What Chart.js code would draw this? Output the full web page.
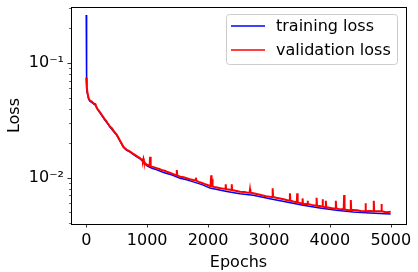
<!DOCTYPE html>
<html>
<head>
<meta charset="utf-8">
<script src="https://cdn.jsdelivr.net/npm/chart.js@4/dist/chart.umd.min.js"></script>
<style>
html,body{margin:0;padding:0;background:#fff;}
canvas{display:block;}
</style>
</head>
<body>
<canvas id="c" width="418" height="272"></canvas>
<script>
// ---- data ----
const trainEpochs = [0, 3, 10, 20, 40, 60, 100, 150, 200, 257, 300, 350, 393, 450, 503, 560, 611, 660, 721, 800, 885, 967, 1005, 1080, 1159, 1250, 1323, 1400, 1541, 1650, 1759, 1900, 2033, 2150, 2307, 2525, 2743, 3016, 3290, 3562, 3836, 4110, 4382, 4656, 4999];
const trainLoss = [0.262, 0.072, 0.060, 0.054, 0.0485, 0.0465, 0.045, 0.043, 0.0385, 0.0348, 0.0322, 0.0297, 0.0275, 0.0253, 0.0234, 0.0206, 0.0184, 0.0174, 0.0167, 0.0156, 0.0146, 0.0131, 0.0126, 0.0121, 0.0117, 0.0112, 0.0109, 0.0106, 0.0099, 0.0096, 0.0092, 0.0087, 0.00812, 0.0079, 0.0076, 0.00725, 0.00702, 0.00656, 0.00614, 0.00575, 0.00545, 0.0052, 0.00502, 0.00492, 0.00482];

const valEpochs = [0, 10, 20, 40, 60, 93, 120, 150, 175, 200, 230, 257, 300, 330, 350, 393, 421, 450, 503, 540, 560, 611, 640, 660, 700, 721, 760, 800, 850, 885, 920, 932, 939, 946, 967, 1005, 1040, 1049, 1058, 1080, 1120, 1159, 1200, 1250, 1290, 1323, 1360, 1400, 1440, 1480, 1487, 1494, 1541, 1600, 1650, 1700, 1759, 1790, 1800, 1810, 1850, 1900, 1950, 2000, 2033, 2045, 2052, 2058, 2066, 2074, 2100, 2150, 2200, 2250, 2283, 2290, 2297, 2350, 2382, 2389, 2396, 2450, 2525, 2600, 2650, 2682, 2689, 2696, 2743, 2800, 2850, 2900, 2950, 3016, 3054, 3061, 3068, 3120, 3180, 3240, 3290, 3337, 3344, 3351, 3400, 3457, 3464, 3471, 3520, 3545, 3552, 3559, 3600, 3627, 3634, 3641, 3700, 3775, 3782, 3789, 3836, 3873, 3880, 3887, 3927, 3934, 3941, 3980, 4050, 4091, 4098, 4105, 4160, 4227, 4234, 4241, 4300, 4337, 4344, 4351, 4382, 4450, 4520, 4578, 4585, 4592, 4656, 4714, 4721, 4728, 4760, 4800, 4840, 4847, 4854, 4920, 4999];
const valLoss = [0.0744, 0.062, 0.055, 0.0492, 0.047, 0.046, 0.0445, 0.0438, 0.0403, 0.0388, 0.037, 0.0352, 0.0326, 0.0312, 0.03, 0.0278, 0.027, 0.0256, 0.0236, 0.0218, 0.0208, 0.0186, 0.018, 0.0176, 0.0171, 0.01685, 0.0163, 0.0158, 0.0152, 0.01476, 0.0142, 0.0141, 0.0146, 0.014, 0.01335, 0.0129, 0.0127, 0.01524, 0.0127, 0.0125, 0.0123, 0.01208, 0.0119, 0.0116, 0.0115, 0.01128, 0.0111, 0.0109, 0.0107, 0.0105, 0.01167, 0.0105, 0.0102, 0.0101, 0.0099, 0.0097, 0.00955, 0.0095, 0.01, 0.0094, 0.0092, 0.009, 0.0088, 0.0086, 0.00846, 0.0092, 0.0105, 0.0086, 0.0098, 0.0084, 0.0083, 0.0082, 0.0081, 0.008, 0.008, 0.00877, 0.0079, 0.0079, 0.0078, 0.00877, 0.0078, 0.0077, 0.00755, 0.0075, 0.0074, 0.0074, 0.0079, 0.0074, 0.00731, 0.0072, 0.0071, 0.007, 0.0069, 0.00683, 0.0068, 0.00808, 0.0068, 0.0067, 0.0066, 0.0065, 0.00639, 0.0063, 0.00731, 0.0063, 0.0062, 0.0061, 0.00731, 0.0061, 0.006, 0.006, 0.0066, 0.0059, 0.0059, 0.0059, 0.0063, 0.0059, 0.0058, 0.0057, 0.00669, 0.0057, 0.00567, 0.0056, 0.00648, 0.0056, 0.0055, 0.0063, 0.0055, 0.0055, 0.0054, 0.0054, 0.0063, 0.0054, 0.0053, 0.0053, 0.00707, 0.0053, 0.0052, 0.0052, 0.0064, 0.0052, 0.00523, 0.0052, 0.0051, 0.0051, 0.00598, 0.0051, 0.00513, 0.0051, 0.0063, 0.0051, 0.0051, 0.0051, 0.0051, 0.0059, 0.0051, 0.005, 0.00505];

const xTicks = [0, 1000, 2000, 3000, 4000, 5000];
const yTicks = [0.004, 0.005, 0.006, 0.007, 0.008, 0.009, 0.01, 0.02, 0.03, 0.04, 0.05, 0.06, 0.07, 0.08, 0.09, 0.1, 0.2, 0.3];
const yMajorLabels = {"0.01": "10\u207B\u00B2", "0.1": "10\u207B\u00B9"};
const seriesNames = ["training loss", "validation loss"];

const FONT = "'DejaVu Sans', sans-serif";

const framePlugin = {
  id: 'frame',
  afterDraw(chart) {
    const ctx = chart.ctx;
    const a = chart.chartArea;
    const xs = chart.scales.x, ys = chart.scales.y;
    ctx.save();
    ctx.strokeStyle = '#000';
    ctx.lineWidth = 0.8;
    xs.ticks.forEach(t => {
      const px = Math.round(xs.getPixelForValue(t.value)) + 0.5;
      ctx.beginPath(); ctx.moveTo(px, a.bottom); ctx.lineTo(px, a.bottom + 3.5); ctx.stroke();
    });
    ys.ticks.forEach(t => {
      const major = yMajorLabels[String(t.value)] !== undefined;
      const py = Math.round(ys.getPixelForValue(t.value)) + 0.5;
      const len = major ? 3.5 : 2;
      ctx.lineWidth = major ? 0.8 : 0.6;
      ctx.beginPath(); ctx.moveTo(a.left - len, py); ctx.lineTo(a.left, py); ctx.stroke();
    });
    ctx.lineWidth = 1;
    ctx.strokeRect(Math.floor(a.left) + 0.5, Math.floor(a.top) + 0.5, Math.round(a.right - a.left), Math.round(a.bottom - a.top));
    // legend
    const bx = 226.5, by = 14.5, bw = 171, bh = 50, r = 3;
    ctx.beginPath();
    ctx.moveTo(bx + r, by);
    ctx.lineTo(bx + bw - r, by); ctx.quadraticCurveTo(bx + bw, by, bx + bw, by + r);
    ctx.lineTo(bx + bw, by + bh - r); ctx.quadraticCurveTo(bx + bw, by + bh, bx + bw - r, by + bh);
    ctx.lineTo(bx + r, by + bh); ctx.quadraticCurveTo(bx, by + bh, bx, by + bh - r);
    ctx.lineTo(bx, by + r); ctx.quadraticCurveTo(bx, by, bx + r, by);
    ctx.closePath();
    ctx.fillStyle = 'rgba(255,255,255,0.8)';
    ctx.fill();
    ctx.strokeStyle = '#cccccc';
    ctx.lineWidth = 1;
    ctx.stroke();
    const rows = [26, 50];
    const colors = ['#0000ff', '#ff0000'];
    ctx.font = '16px ' + FONT;
    ctx.textBaseline = 'middle';
    ctx.textAlign = 'left';
    seriesNames.forEach((name, i) => {
      ctx.strokeStyle = colors[i];
      ctx.lineWidth = 1.5;
      ctx.beginPath(); ctx.moveTo(231, rows[i]); ctx.lineTo(265, rows[i]); ctx.stroke();
      ctx.fillStyle = '#000';
      ctx.fillText(name, 276, rows[i] + 1);
    });
    ctx.restore();
  }
};

new Chart(document.getElementById('c'), {
  type: 'line',
  data: {
    datasets: [
      {
        label: seriesNames[0],
        data: trainEpochs.map((e, i) => ({x: e, y: trainLoss[i]})),
        borderColor: '#0000ff',
        borderWidth: 1.5,
        pointRadius: 0,
        tension: 0,
        order: 2
      },
      {
        label: seriesNames[1],
        data: valEpochs.map((e, i) => ({x: e, y: valLoss[i]})),
        borderColor: '#ff0000',
        borderWidth: 2,
        pointRadius: 0,
        tension: 0,
        order: 1
      }
    ]
  },
  options: {
    responsive: false,
    animation: false,
    devicePixelRatio: 1,
    layout: {padding: {left: 0, top: 7, right: 12, bottom: 0}},
    plugins: {legend: {display: false}, tooltip: {enabled: false}},
    scales: {
      x: {
        type: 'linear',
        min: -250,
        max: 5250,
        grid: {display: false, drawTicks: false},
        border: {display: false},
        afterBuildTicks: s => { s.ticks = xTicks.map(v => ({value: v})); },
        afterFit: s => { s.height = 48; s.paddingLeft = 0; s.paddingRight = 0; s.paddingTop = 0; s.paddingBottom = 0; },
        ticks: {
          autoSkip: false, maxRotation: 0, padding: 7, color: '#000',
          font: {family: FONT, size: 16},
          callback: v => String(v)
        },
        title: {display: true, text: 'Epochs', color: '#000', font: {family: FONT, size: 16}, padding: {top: 0, bottom: 0}}
      },
      y: {
        type: 'logarithmic',
        min: 0.00395,
        max: 0.3076,
        grid: {display: false, drawTicks: false},
        border: {display: false},
        afterBuildTicks: s => { s.ticks = yTicks.map(v => ({value: v})); },
        afterFit: s => { s.width = 71; s.paddingTop = 0; s.paddingBottom = 0; s.paddingLeft = 0; s.paddingRight = 0; },
        ticks: {
          autoSkip: false, padding: 7, color: '#000',
          font: {family: FONT, size: 16},
          callback: v => yMajorLabels[String(v)] || ''
        },
        title: {display: true, text: 'Loss', color: '#000', font: {family: FONT, size: 16}, padding: {top: 5, bottom: 0}}
      }
    }
  },
  plugins: [framePlugin]
});
</script>
</body>
</html>
